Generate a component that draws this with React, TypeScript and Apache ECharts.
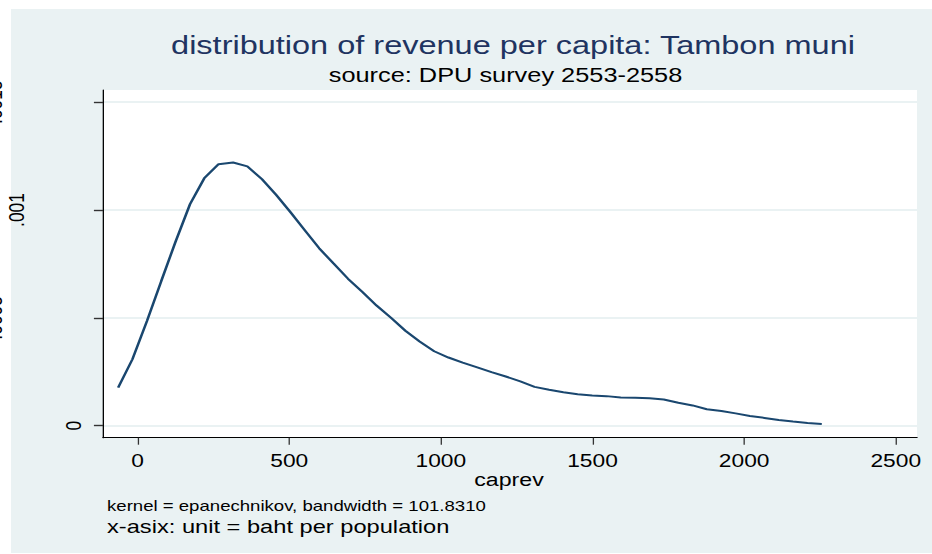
import React, { useEffect, useRef } from "react";
import * as echarts from "echarts";

// Kernel density estimate of per-capita revenue (evaluation points and densities)
const caprevPoints = [
  -64, -17, 31, 78, 125, 173, 220, 267, 315, 362, 410, 457, 504, 552, 599, 646, 694, 741,
  788, 836, 883, 930, 978, 1025, 1072, 1120, 1167, 1214, 1262, 1309, 1357, 1404, 1451,
  1499, 1546, 1593, 1641, 1688, 1735, 1783, 1830, 1877, 1925, 1972, 2019, 2067, 2114,
  2161, 2209, 2256,
];
const densityValues = [
  0.000176, 0.000308, 0.000485, 0.00067, 0.000852, 0.001027, 0.001147, 0.001212, 0.00122,
  0.001202, 0.001143, 0.00107, 0.00099, 0.000905, 0.000822, 0.000752, 0.000681, 0.00062,
  0.000557, 0.0005, 0.00044, 0.00039, 0.000345, 0.000316, 0.000292, 0.00027, 0.000248,
  0.000228, 0.000205, 0.00018, 0.000167, 0.000155, 0.000146, 0.00014, 0.000137, 0.000131,
  0.00013, 0.000127, 0.000121, 0.000106, 0.000094, 0.000076, 0.000068, 0.000057, 0.000045,
  0.000036, 0.000026, 0.000019, 0.000012, 0.000008,
];

const xTicks = [0, 500, 1000, 1500, 2000, 2500];
const yTicks = [0, 0.0005, 0.001, 0.0015];
const yTickLabels = ["0", ".0005", ".001", ".0015"];

const titleText = "distribution of revenue per capita: Tambon muni";
const subtitleText = "source: DPU survey 2553-2558";
const xAxisTitle = "caprev";
const noteText = "kernel = epanechnikov, bandwidth = 101.8310";
const captionText = "x-asix: unit = baht per population";

const FONT = "'Liberation Sans', Arial, Helvetica, sans-serif";
const PANEL = "#eaf2f3";
const LINE = "#1a476f";

// The graph is laid out on a narrower canvas and widened horizontally,
// giving the wide-lettered look of the exported graph.
const OUT_W = 932;
const OUT_H = 554;
const INNER_W = 717;
const SX = OUT_W / INNER_W;
const ix = (px: number) => px / SX; // output pixel x -> canvas x

// horizontal centre of each rotated y label, in output pixels
const yLabelCenters = [73, -5.5, 16.5, -5.5];

export default function App() {
  const ref = useRef<HTMLDivElement>(null);

  useEffect(() => {
    if (!ref.current) return;
    const chart = echarts.init(ref.current, undefined, { renderer: "svg" });
    const data = caprevPoints.map((x, i) => [x, densityValues[i]]);

    chart.setOption({
      animation: false,
      backgroundColor: "#ffffff",
      textStyle: { fontFamily: FONT },
      grid: {
        left: ix(103),
        top: 90,
        width: ix(814),
        height: 347.7,
        show: true,
        backgroundColor: "#ffffff",
        borderWidth: 0,
      },
      xAxis: {
        type: "value",
        min: -114,
        max: 2570,
        axisLine: { show: true, onZero: false, lineStyle: { color: "#000000", width: 1.2 } },
        axisTick: {
          show: true,
          length: 7,
          customValues: xTicks,
          lineStyle: { color: "#333333", width: 1 },
        },
        axisLabel: {
          customValues: xTicks,
          formatter: (v: number) => String(v),
          color: "#000000",
          fontSize: 17.5,
          fontFamily: FONT,
          margin: 14,
        },
        splitLine: { show: false },
      },
      yAxis: {
        type: "value",
        min: -0.0000557,
        max: 0.001556,
        axisLine: { show: true, onZero: false, lineStyle: { color: "#000000", width: 1 } },
        axisTick: {
          show: true,
          length: 7,
          customValues: yTicks,
          lineStyle: { color: "#333333", width: 1.4 },
        },
        axisLabel: { show: false, customValues: yTicks },
        splitLine: { show: true, lineStyle: { color: PANEL, width: 2 } },
      },
      series: [
        {
          type: "line",
          data,
          showSymbol: false,
          symbol: "none",
          lineStyle: { color: LINE, width: 2 },
          z: 3,
        },
      ],
    });

    // y tick labels, rotated, placed at the axis' own pixel positions
    const yLabelGraphics = yTicks.map((v, i) => {
      const py = chart.convertToPixel({ yAxisIndex: 0 }, v) as number;
      return {
        type: "text",
        x: ix(yLabelCenters[i]),
        y: py,
        rotation: Math.PI / 2,
        silent: true,
        style: {
          text: yTickLabels[i],
          fill: "#000000",
          font: `17.5px ${FONT}`,
          textAlign: "center",
          textVerticalAlign: "middle",
        },
      };
    });

    chart.setOption({
      graphic: [
        {
          type: "rect",
          z: -10,
          silent: true,
          shape: { x: ix(11), y: 9, width: INNER_W - ix(11), height: 544 },
          style: { fill: PANEL },
        },
        {
          type: "text",
          x: ix(513),
          y: 45.6,
          silent: true,
          style: {
            text: titleText,
            fill: "#1f3461",
            font: `25px ${FONT}`,
            textAlign: "center",
            textVerticalAlign: "middle",
          },
        },
        {
          type: "text",
          x: ix(505.5),
          y: 75.5,
          silent: true,
          style: {
            text: subtitleText,
            fill: "#000000",
            font: `19.5px ${FONT}`,
            textAlign: "center",
            textVerticalAlign: "middle",
          },
        },
        {
          type: "text",
          x: ix(509),
          y: 479.8,
          silent: true,
          style: {
            text: xAxisTitle,
            fill: "#000000",
            font: `17.8px ${FONT}`,
            textAlign: "center",
            textVerticalAlign: "middle",
          },
        },
        {
          type: "text",
          x: ix(107),
          y: 506.5,
          silent: true,
          style: {
            text: noteText,
            fill: "#000000",
            font: `14.3px ${FONT}`,
            textAlign: "left",
            textVerticalAlign: "middle",
          },
        },
        {
          type: "text",
          x: ix(107),
          y: 526.5,
          silent: true,
          style: {
            text: captionText,
            fill: "#000000",
            font: `18.2px ${FONT}`,
            textAlign: "left",
            textVerticalAlign: "middle",
          },
        },
        ...yLabelGraphics,
      ],
    });

    return () => chart.dispose();
  }, []);

  return (
    <div
      style={{
        position: "fixed",
        left: 0,
        top: 0,
        width: OUT_W,
        height: OUT_H,
        overflow: "hidden",
        background: "#ffffff",
      }}
    >
      <div
        ref={ref}
        style={{
          width: INNER_W,
          height: OUT_H,
          transform: `scaleX(${SX})`,
          transformOrigin: "0 0",
        }}
      />
    </div>
  );
}
